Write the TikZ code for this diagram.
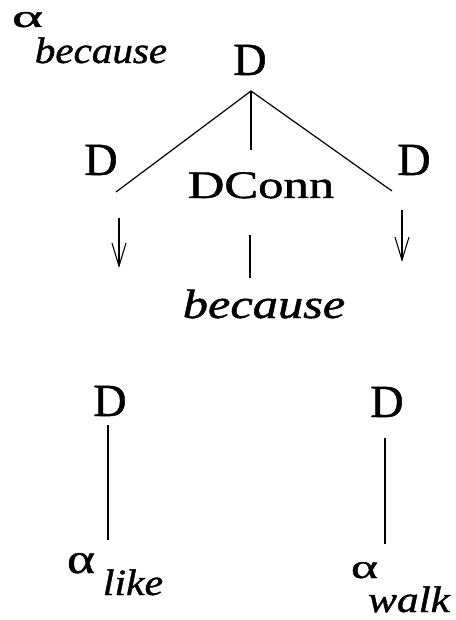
\documentclass[tikz,border=0pt]{standalone}
\usepackage{fontspec}
\setmainfont{Liberation Serif}[FakeBold=1]
\usetikzlibrary{arrows.meta}
\newcommand{\fsz}[1]{\fontsize{#1pt}{#1pt}\selectfont}
\begin{document}
\begin{tikzpicture}[x=1pt,y=1pt,
  lbl/.style={inner sep=0pt, anchor=base},
  edge/.style={line width=1.2pt},
  down/.style={line width=1.1pt, -{Straight Barb[length=23pt,width=14pt,line width=1.1pt]}}]
\useasboundingbox (0,0) rectangle (455,-620);

% tree labels
\node[lbl] (root) at (250,-75) {\fsz{46}D};
\node[lbl] (dl) at (101,-175) {\fsz{46}D};
\node[lbl] (dr) at (414,-175) {\fsz{46}D};
\node[lbl] (dc) at (261,-198) {\scalebox{1.3}[1]{\fsz{39}DConn}};
\node[lbl] (bc) at (264,-318) {\scalebox{1.23}[1]{\fsz{41}\itshape because}};

% elementary tree name
\node[lbl] (a0) at (27.5,-27) {\resizebox{31pt}{15pt}{α}};
\node[lbl] (n0) at (101,-63) {\scalebox{1.11}[1]{\fsz{37}\itshape because}};

% argument trees
\node[lbl] (bl) at (110,-416) {\fsz{46}D};
\node[lbl] (br) at (387,-417) {\fsz{46}D};
\node[lbl] (a1) at (81,-573) {\resizebox{28pt}{20pt}{α}};
\node[lbl] (n1) at (133,-595) {\scalebox{1.13}[1]{\fsz{37}\itshape like}};
\node[lbl] (a2) at (364.5,-578) {\resizebox{27pt}{16pt}{α}};
\node[lbl] (n2) at (409,-612) {\scalebox{1.17}[1]{\fsz{37}\itshape walk}};

% branch points
\coordinate (apex) at (251,-91);
\coordinate (lleg) at (116,-192);
\coordinate (rleg) at (392,-191);
\coordinate (mleg) at (251,-150);
\coordinate (la1) at (119,-218);
\coordinate (la2) at (119,-268);
\coordinate (ra1) at (402,-210);
\coordinate (ra2) at (402,-262);
\coordinate (c1) at (250,-235);
\coordinate (c2) at (250,-278);
\coordinate (bl1) at (108,-425);
\coordinate (bl2) at (108,-540);
\coordinate (br1) at (385,-438);
\coordinate (br2) at (385,-544);

\draw[edge] (lleg) -- (apex) -- (rleg);
\draw[edge] (apex) -- (mleg);
\draw[edge] (c1) -- (c2);
\draw[down] (la1) -- (la2);
\draw[down] (ra1) -- (ra2);
\draw[edge] (bl1) -- (bl2);
\draw[edge] (br1) -- (br2);
\end{tikzpicture}
\end{document}
